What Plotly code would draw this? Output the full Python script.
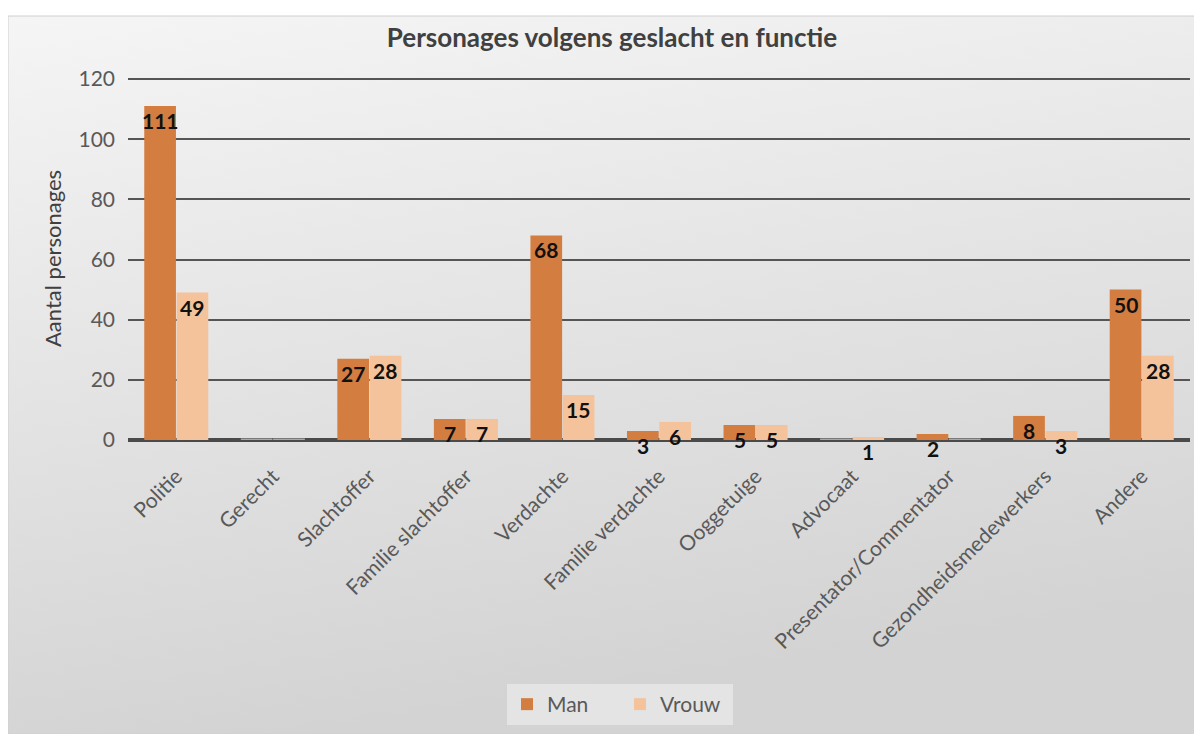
import plotly.graph_objects as go

categories = ["Politie", "Gerecht", "Slachtoffer", "Familie slachtoffer", "Verdachte",
              "Familie verdachte", "Ooggetuige", "Advocaat", "Presentator/Commentator",
              "Gezondheidsmedewerkers", "Andere"]
man = [111, 0, 27, 7, 68, 3, 5, 0, 2, 8, 50]
vrouw = [49, 0, 28, 7, 15, 6, 5, 1, 0, 3, 28]
y_ticks = [0, 20, 40, 60, 80, 100, 120]

MAN_C = "#D47D41"
VROUW_C = "#F4C39C"
# page body has an 8px margin, so the figure is drawn 8px smaller
W, H = 1194, 726
ML, MR, MT, MB = 120, 12, 69, 294
FONT = "Lato, 'Open Sans', sans-serif"
pw, ph = W - ML - MR, H - MT - MB
y_top = 120 * ph / (ph - 2)

fig = go.Figure()
for name, vals, col in [("Man", man, MAN_C), ("Vrouw", vrouw, VROUW_C)]:
    fig.add_trace(go.Bar(
        name=name, x=categories, y=vals,
        marker=dict(color=col,
                    line=dict(color=["#a9a9a9" if v == 0 else col for v in vals],
                              width=[3 if v == 0 else 0 for v in vals])),
        hoverinfo="x+y+name",
    ))

# data labels (inside end, overflowing downward for small bars)
for vals, shift in [(man, -16), (vrouw, 16)]:
    for c, v in zip(categories, vals):
        if v == 0:
            continue
        fig.add_annotation(x=c, y=v, text=f"<b>{v}</b>", showarrow=False,
                           yanchor="top", xanchor="center", xshift=shift, yshift=0,
                           font=dict(family=FONT, size=21, color="#111111"))

# gradient background via svg data uri
svg = ("<svg xmlns='http://www.w3.org/2000/svg' width='100' height='100' preserveAspectRatio='none'>"
       "<defs><linearGradient id='g' x1='0' y1='0' x2='0.25' y2='1'>"
       "<stop offset='0' stop-color='%23f5f5f5'/><stop offset='1' stop-color='%23d3d3d3'/>"
       "</linearGradient></defs><rect width='100' height='100' fill='url(%23g)'/></svg>")
src = "data:image/svg+xml;utf8," + svg.replace("<", "%3C").replace(">", "%3E").replace(" ", "%20")
x0 = (0 - ML) / pw
x1 = (W - ML) / pw
y1 = (H - 8 - MB) / ph
y0 = (0 - MB) / ph
fig.add_layout_image(dict(source=src, xref="paper", yref="paper", x=x0, y=y1,
                          sizex=x1 - x0, sizey=y1 - y0, sizing="stretch",
                          xanchor="left", yanchor="top", layer="below"))
fig.add_shape(type="rect", xref="paper", yref="paper", x0=x0, x1=x1, y0=y0, y1=y1,
              line=dict(color="#d0d0d0", width=1), layer="below")

fig.update_layout(
    width=W, height=H,
    margin=dict(l=ML, r=MR, t=MT, b=MB, autoexpand=False),
    paper_bgcolor="white", plot_bgcolor="rgba(0,0,0,0)",
    barmode="group", bargap=0.33, bargroupgap=0.02,
    title=dict(text="<b>Personages volgens geslacht en functie</b>", x=604 / W, xanchor="center",
               xref="container", y=1 - 30 / H, yanchor="middle",
               font=dict(family=FONT, size=26, color="#404040")),
    font=dict(family=FONT, color="#595959"),
    yaxis=dict(range=[0, y_top], tickvals=y_ticks, showgrid=True, gridcolor="#555555",
               gridwidth=2, zeroline=True, zerolinecolor="#4a4a4a", zerolinewidth=4,
               tickfont=dict(size=21, color="#595959"), ticks="", ticklabelstandoff=12,
               automargin=False,
               title=dict(text="Aantal personages", standoff=10,
                          font=dict(size=22, color="#404040"))),
    xaxis=dict(tickangle=-45, tickfont=dict(size=21, color="#595959"), showline=False,
               ticks="", ticklabelstandoff=19, automargin=False),
    legend=dict(orientation="h", x=(612 - ML) / pw, xanchor="center", y=(432 - 676) / ph,
                yanchor="top", bgcolor="rgba(235,235,235,0.7)",
                font=dict(size=21, color="#595959"),
                itemwidth=30, tracegroupgap=0, entrywidth=68),
    showlegend=True,
)

fig.write_html("out.html")
